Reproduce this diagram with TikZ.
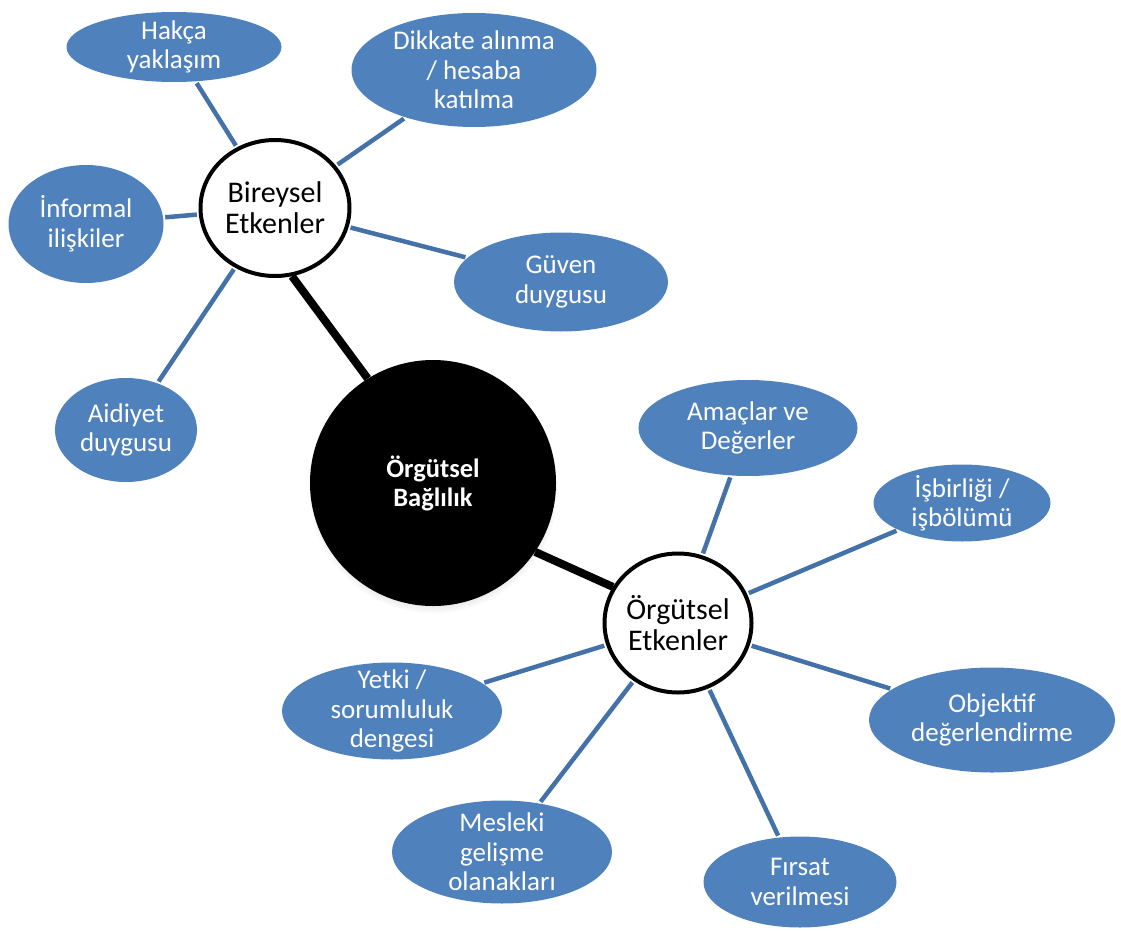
\documentclass[tikz,border=0pt]{standalone}
\usepackage{fontspec}
\setmainfont{Carlito}
\usepackage{tikz}
\usetikzlibrary{shapes,shadows}
\definecolor{kutumavi}{RGB}{79,129,189}
\definecolor{cizgimavi}{RGB}{68,114,168}

\begin{document}
\begin{tikzpicture}[x=1pt,y=-1pt,font=\fontsize{27}{29.5}\selectfont]
 \tikzstyle{etken}=[ellipse,draw=black,line width=4pt,fill=white,inner sep=0pt,align=center,font=\fontsize{30}{31}\selectfont]
 \tikzstyle{alt}=[ellipse,fill=kutumavi,text=white,inner xsep=0pt,inner ysep=-8pt,align=center]
 \tikzstyle{bag cizgi}=[draw=cizgimavi,line width=4.5pt,shorten <=2pt,shorten >=2pt]
 \tikzstyle{ana cizgi}=[draw=black,line width=8pt]
 \useasboundingbox (0,0) rectangle (1121,931);

   \node[circle,fill=black,minimum size=246pt,text=white,font=\fontsize{26.5}{29}\selectfont\bfseries,align=center,
     circular drop shadow={shadow xshift=0pt,shadow yshift=-5pt,opacity=.35,shadow scale=1.02}] (bag) at (433,483) {Örgütsel\\Bağlılık};
   \node[etken,minimum width=149pt,minimum height=136pt] (bir) at (275,208) {Bireysel\\Etkenler};
   \node[etken,minimum width=147pt,minimum height=139pt] (org) at (678,623) {Örgütsel\\Etkenler};

   % bireysel etkenler
   \node[alt,minimum width=215pt,minimum height=70pt] (hak) at (174,47) {Hakça\\yaklaşım};
   \node[alt,minimum width=245pt,minimum height=114pt] (dik) at (474,70) {Dikkate alınma\\/ hesaba\\katılma};
   \node[alt,minimum width=155pt,minimum height=118pt] (inf) at (86,224) {İnformal\\ilişkiler};
   \node[alt,minimum width=214pt,minimum height=99pt] (guv) at (561,282) {Güven\\duygusu};
   \node[alt,minimum width=142pt,minimum height=104pt] (aid) at (126,430) {Aidiyet\\duygusu};

   % örgütsel etkenler
   \node[alt,minimum width=219pt,minimum height=96pt] (ama) at (748,428) {Amaçlar ve\\Değerler};
   \node[alt,minimum width=177pt,minimum height=77pt] (isb) at (962,503) {İşbirliği /\\işbölümü};
   \node[alt,minimum width=246pt,minimum height=105pt] (obj) at (992,720) {Objektif\\değerlendirme};
   \node[alt,minimum width=193pt,minimum height=91pt] (fir) at (800,882) {Fırsat\\verilmesi};
   \node[alt,minimum width=220pt,minimum height=103pt] (mes) at (502,852) {Mesleki\\gelişme\\olanakları};
   \node[alt,minimum width=220pt,minimum height=97pt] (yet) at (392,711) {Yetki /\\sorumluluk\\dengesi};

  \path[ana cizgi]
    (bir.-76) edge (bag.122)
    (bag.-34) edge (org.151);

  \path[bag cizgi]
    (bir) edge (hak)
    (bir) edge (dik)
    (bir) edge (inf)
    (bir) edge (guv)
    (bir) edge (aid)
    (org) edge (ama)
    (org) edge (isb)
    (org) edge (obj)
    (org) edge (fir)
    (org) edge (mes)
    (org) edge (yet);

\end{tikzpicture}
\end{document}
